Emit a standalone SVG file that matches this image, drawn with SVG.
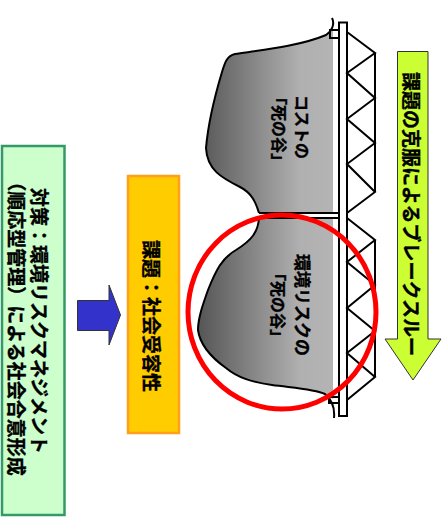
<svg xmlns="http://www.w3.org/2000/svg" width="444" height="527" viewBox="0 0 444 527">
  <style>
    text { font-family: "Noto Sans CJK JP", "Liberation Sans", sans-serif; font-weight: 700; fill: #000; stroke: #000; stroke-width: 0.35; text-anchor: middle; dominant-baseline: central; }
    .big { font-size: 19px; }
    .mid { font-size: 16px; }
    .wide { font-size: 17px; }
    .ln { fill: none; stroke: #000; stroke-width: 2; }
  </style>
  <defs>
    <linearGradient id="valleyFill" gradientUnits="userSpaceOnUse" x1="198" y1="0" x2="334" y2="0">
      <stop offset="0" stop-color="#555"/>
      <stop offset="0.75" stop-color="#b0b0b0"/>
      <stop offset="1" stop-color="#b4b4b4"/>
    </linearGradient>
  </defs>

  <g id="valley-cost">
    <path d="M332 18C335 24 332 31 326 35C300 46 262 50 235 54C227 56 225 62 222 72C216 92 208 125 206 148C207 170 222 178 240 187C252 193 256 203 259 213L333 213L333 32Z" fill="url(#valleyFill)" stroke="none"/>
    <path class="ln" d="M332 18C335 24 332 31 326 35C300 46 262 50 235 54C227 56 225 62 222 72C216 92 208 125 206 148C207 170 222 178 240 187C252 193 256 203 259 213"/>
    <rect class="ln" x="330" y="30" width="9" height="8"/>
    <text class="mid" transform="translate(303,127) rotate(90)">コストの</text>
    <text class="mid" transform="translate(280,129) rotate(90)">「死の谷」</text>
  </g>

  <g id="valley-risk">
    <path d="M259 218C258 232 252 240 236 250C222 258 216 270 208 290C203 304 198 318 198 330C200 345 212 358 226 368C238 378 252 382 272 385C295 388 315 389 325 394L333 399L333 218Z" fill="url(#valleyFill)" stroke="none"/>
    <path class="ln" d="M259 218C258 232 252 240 236 250C222 258 216 270 208 290C203 304 198 318 198 330C200 345 212 358 226 368C238 378 252 382 272 385C295 388 315 389 325 394C331 399 335 407 334 418"/>
    <rect class="ln" x="329" y="397" width="10" height="6"/>
    <text class="wide" transform="translate(303,305) rotate(90)">環境リスクの</text>
    <text class="mid" transform="translate(279,305) rotate(90)">「死の谷」</text>
  </g>

  <g id="bridge">
    <rect x="339" y="22.500" width="8" height="393.500" fill="#fff" stroke="#000" stroke-width="2"/>
    <path class="ln" d="M259 213H339M259 218H339"/>
    <path class="ln" d="M347 32L375 53L347 73L375 98L347 119L375 143L347 164L375 192L347 213"/>
    <path class="ln" d="M375 53V192"/>
    <path class="ln" d="M347 218L375 240L347 262L375 285L347 308L375 331L347 353L375 377L347 400"/>
    <path class="ln" d="M375 240V377"/>
  </g>

  <g id="risk-circle">
    <ellipse cx="282" cy="312" rx="94" ry="97" fill="none" stroke="#f00" stroke-width="5"/>
  </g>

  <g id="breakthrough-arrow">
    <path d="M397.500 51.500H428V339H441L413 380L385 339H397.500Z" fill="#ccff33" stroke="#333" stroke-width="1"/>
    <text class="big" transform="translate(412,214) rotate(90)">課題の克服によるブレークスルー</text>
  </g>

  <g id="issue-box">
    <rect x="128" y="176" width="51" height="257" fill="#ffcc00" stroke="#ff9f1c" stroke-width="2.500"/>
    <text class="big" transform="translate(152,316) rotate(90)">課題：社会受容性</text>
  </g>

  <g id="step-arrow">
    <path d="M77.500 300.500H109V285L120.500 315L109 345V330.500H77.500Z" fill="#3333cc" stroke="#333" stroke-width="1"/>
  </g>

  <g id="measure-box">
    <rect x="2" y="146" width="62.500" height="369" fill="#ccffcc" stroke="#339966" stroke-width="2.500"/>
    <text class="big" transform="translate(40,321) rotate(90)">対策：環境リスクマネジメント</text>
    <text class="big" transform="translate(17,324) rotate(90)">（順応型管理）による社会合意形成</text>
  </g>
</svg>
